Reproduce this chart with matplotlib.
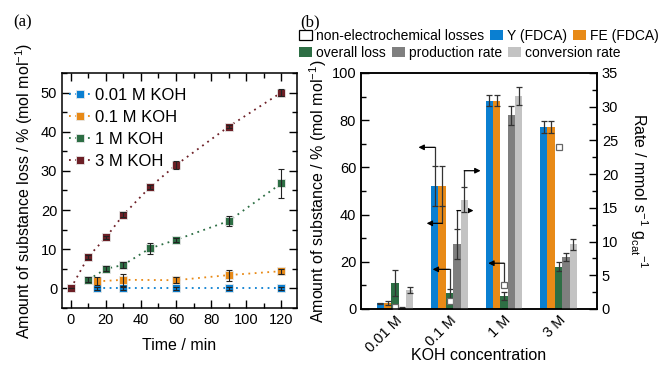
import matplotlib
matplotlib.use('Agg')
import matplotlib.pyplot as plt
from matplotlib.patches import Patch
from matplotlib.ticker import MultipleLocator
import numpy as np

plt.rcParams['font.family'] = ['Liberation Sans', 'DejaVu Sans']
plt.rcParams['mathtext.default'] = 'regular'

# ---- panel (a): substance loss over time ----
t_001 = [15, 30, 60, 90, 120]
loss_001 = [0, 0, 0, 0, 0]
err_001 = [0.3, 0.3, 0.3, 0.3, 0.3]

t_01 = [15, 30, 60, 90, 120]
loss_01 = [1.8, 2.2, 2.1, 3.4, 4.4]
err_01 = [1.0, 1.5, 0.7, 1.4, 0.6]

t_1 = [10, 20, 30, 45, 60, 90, 120]
loss_1 = [2.2, 5.0, 6.0, 10.2, 12.4, 17.2, 26.8]
err_1 = [0.6, 0.6, 0.8, 1.3, 0.5, 1.3, 3.8]

t_3 = [0, 10, 20, 30, 45, 60, 90, 120]
loss_3 = [0, 8.1, 13.0, 18.8, 25.8, 31.5, 41.3, 50.0]
err_3 = [0, 0.5, 0.5, 0.6, 0.5, 1.0, 0.4, 1.0]

series_labels = ['0.01 M KOH', '0.1 M KOH', '1 M KOH', '3 M KOH']

# ---- panel (b): bars per KOH concentration ----
conc = ['0.01 M', '0.1 M', '1 M', '3 M']
y_fdca = [2.5, 52.1, 88.3, 77.2]
y_err = [0.2, 8.5, 2.3, 2.5]
fe_fdca = [2.5, 52.1, 88.3, 77.2]
fe_err = [0.9, 8.5, 2.3, 2.5]
overall_loss = [11.0, 6.6, 5.5, 17.9]
loss_err = [5.6, 1.9, 1.6, 1.9]
nonec_loss = [0.8, 3.4, 10.2, 68.6]
prod_rate = [0.2, 9.6, 28.7, 7.7]
prod_err = [0.1, 2.2, 1.35, 0.6]
conv_rate = [2.8, 16.2, 31.6, 9.6]
conv_err = [0.5, 1.85, 1.3, 0.8]

blue = '#0a7fd1'
orange = '#e88a17'
green = '#2d6e44'
maroon = '#6d1f26'
dgrey = '#7f7f7f'
lgrey = '#c3c3c3'

fig = plt.figure(figsize=(6.59, 3.67), dpi=100)

# panel (a)
ax1 = fig.add_axes([62/659, 1 - 308/367, 235/659, 235/367])
dots = (0, (1, 2.5))
data_a = [(t_001, loss_001, err_001, blue), (t_01, loss_01, err_01, orange),
          (t_1, loss_1, err_1, green), (t_3, loss_3, err_3, maroon)]
for (t, v, e, c), lab in zip(data_a, series_labels):
    ax1.plot(t, v, ls=dots, lw=1.3, color=c, marker='s', ms=6,
             mec='#e8e8e8', mew=0.6, label=lab, zorder=3)
    ax1.errorbar(t, v, yerr=e, fmt='none', ecolor='#222222', elinewidth=0.8,
                 capsize=2, capthick=0.8, zorder=4)

ax1.set_xlim(-5, 129)
ax1.set_ylim(-5, 55)
ax1.xaxis.set_major_locator(MultipleLocator(20))
ax1.xaxis.set_minor_locator(MultipleLocator(10))
ax1.yaxis.set_major_locator(MultipleLocator(10))
ax1.yaxis.set_minor_locator(MultipleLocator(5))
ax1.tick_params(which='both', direction='in', top=True, right=True, labelsize=10.5, width=1)
ax1.tick_params(which='major', length=6)
ax1.tick_params(which='minor', length=3.5)
for s in ax1.spines.values():
    s.set_linewidth(1.1)
ax1.set_xlabel('Time / min', fontsize=11.5)
ax1.xaxis.set_label_coords(0.5, -0.128)
ax1.set_ylabel('Amount of substance loss / % (mol mol$^{-1}$)', fontsize=11.5)
ax1.legend(loc='upper left', bbox_to_anchor=(0, 1 - 8/235), frameon=False, fontsize=12,
           handlelength=1.3, handletextpad=0.3, labelspacing=0.42, borderaxespad=0.2,
           borderpad=0.2)

# panel (b)
ax2 = fig.add_axes([361/659, 1 - 309/367, 236/659, 236/367])
ax2r = ax2.twinx()
x = np.arange(len(conc))
w = 0.135
ekw = dict(ecolor='#333333', elinewidth=0.9, capsize=2.5, capthick=0.9)

ax2.bar(x - 2*w, y_fdca, w, yerr=y_err, color=blue, error_kw=ekw)
ax2.bar(x - w, fe_fdca, w, yerr=fe_err, color=orange, error_kw=ekw)
ax2.bar(x, overall_loss, w, yerr=loss_err, color=green, error_kw=ekw)
ax2.plot(x, nonec_loss, ls='none', marker='s', ms=5, mfc='white', mec='#666666', mew=0.9, zorder=5)
ax2r.bar(x + w, prod_rate, w, yerr=prod_err, color=dgrey, error_kw=ekw)
ax2r.bar(x + 2*w, conv_rate, w, yerr=conv_err, color=lgrey, error_kw=ekw)

# elbow arrows pointing to the axis each series belongs to
scale = 100 / 35
arrows = [
    (1 - 2*w, y_fdca[1] + y_err[1], 68.5, 0.43),
    (1 - w, fe_fdca[1] - fe_err[1], 36.3, 0.58),
    (1, overall_loss[1] + loss_err[1], 16.8, 0.69),
    (1 + 2*w, (conv_rate[1] + conv_err[1]) * scale, 58.6, 1.57),
    (1 + w, (prod_rate[1] + prod_err[1]) * scale, 41.7, 1.44),
    (2, nonec_loss[2] + 1.4, 19.4, 1.71),
]
for x0, y0, y1, x1 in arrows:
    ax2.plot([x0, x0], [y0, y1], color='#333333', lw=0.9)
    ax2.annotate('', xy=(x1, y1), xytext=(x0, y1),
                 arrowprops=dict(arrowstyle='-|>', color='black', lw=0.9,
                                 shrinkA=0, shrinkB=0, mutation_scale=8))

ax2.set_xlim(-0.624, 3.706)
ax2.set_ylim(0, 100)
ax2r.set_ylim(0, 35)
ax2.set_xticks(x)
ax2.set_xticklabels(conc, rotation=45, ha='right', rotation_mode='anchor')
ax2.yaxis.set_major_locator(MultipleLocator(20))
ax2.yaxis.set_minor_locator(MultipleLocator(10))
ax2r.yaxis.set_major_locator(MultipleLocator(5))
ax2r.yaxis.set_minor_locator(MultipleLocator(2.5))
ax2.tick_params(axis='x', length=0, labelsize=10.5, pad=3)
ax2.tick_params(axis='y', which='both', direction='in', labelsize=10.5, width=1)
ax2r.tick_params(axis='y', which='both', direction='in', labelsize=10.5, width=1)
for a in (ax2, ax2r):
    a.tick_params(axis='y', which='major', length=6)
    a.tick_params(axis='y', which='minor', length=3.5)
    for s in a.spines.values():
        s.set_linewidth(1.1)
ax2.set_xlabel('KOH concentration', fontsize=11.5)
ax2.xaxis.set_label_coords(0.5, -0.165)
ax2.set_ylabel('Amount of substance / % (mol mol$^{-1}$)', fontsize=11.5, labelpad=2)
ax2r.set_ylabel('Rate / mmol s$^{-1}$ g$_{cat}$$^{-1}$', fontsize=11.5, rotation=270)
ax2r.yaxis.set_label_coords(1 + 53/236, 0.5)

# legend for panel (b), two free-flowing rows
row1 = [Patch(facecolor='white', edgecolor='black', lw=0.9, label='non-electrochemical losses'),
        Patch(facecolor=blue, label='Y (FDCA)'),
        Patch(facecolor=orange, label='FE (FDCA)')]
row2 = [Patch(facecolor=green, label='overall loss'),
        Patch(facecolor=dgrey, label='production rate'),
        Patch(facecolor=lgrey, label='conversion rate')]
leg_kw = dict(loc='upper left', ncol=3, frameon=False, fontsize=10, handlelength=0.95,
              handleheight=0.8, handletextpad=0.3, columnspacing=0.4,
              borderpad=0, borderaxespad=0)
fig.legend(handles=row1, bbox_to_anchor=(299/659, 1 - 29/367), **leg_kw)
fig.legend(handles=row2, bbox_to_anchor=(299/659, 1 - 46/367), **leg_kw)

fig.text(13/659, 1 - 22/367, '(a)', family='Liberation Serif', fontsize=12, va='center')
fig.text(300/659, 1 - 22/367, '(b)', family='Liberation Serif', fontsize=12, va='center')

fig.savefig('out.png', dpi=100)
